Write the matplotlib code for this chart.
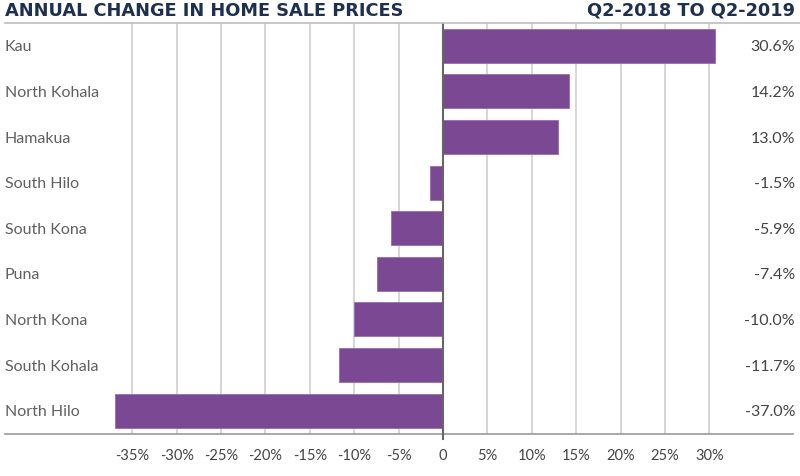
import matplotlib
matplotlib.use("Agg")
import matplotlib.pyplot as plt
from matplotlib.lines import Line2D

categories = ["Kau", "North Kohala", "Hamakua", "South Hilo", "South Kona",
              "Puna", "North Kona", "South Kohala", "North Hilo"]
values = [30.6, 14.2, 13.0, -1.5, -5.9, -7.4, -10.0, -11.7, -37.0]
value_labels = ["30.6%", "14.2%", "13.0%", "-1.5%", "-5.9%", "-7.4%",
                "-10.0%", "-11.7%", "-37.0%"]
tick_vals = [-35, -30, -25, -20, -15, -10, -5, 0, 5, 10, 15, 20, 25, 30]
tick_labels = ["-35%", "-30%", "-25%", "-20%", "-15%", "-10%", "-5%", "0",
               "5%", "10%", "15%", "20%", "25%", "30%"]
title_left = "ANNUAL CHANGE IN HOME SALE PRICES"
title_right = "Q2-2018 TO Q2-2019"

plt.rcParams['font.family'] = ['Lato', 'DejaVu Sans']

W, H = 800, 476
fig = plt.figure(figsize=(W / 100, H / 100), dpi=100)
ax_l, ax_r = 5, 795
ax_t, ax_b = 23, 433.5
ax = fig.add_axes([ax_l / W, 1 - ax_b / H, (ax_r - ax_l) / W, (ax_b - ax_t) / H])

px_per = (709.3 - 443) / 30.0
xmin = (ax_l - 443) / px_per
xmax = (ax_r - 443) / px_per
ax.set_xlim(xmin, xmax)
ax.set_ylim(len(categories) - 0.5, -0.5)

for t in tick_vals:
    if t != 0:
        ax.axvline(t, color="#cfcfcf", lw=1.2, zorder=0)

ypos = list(range(len(categories)))
ax.barh(ypos, values, height=0.745, color="#7b4894", edgecolor="#9a6ab0",
        linewidth=0.6, zorder=2)
ax.axvline(0, color="#666666", lw=1.5, zorder=3)

for y, c, lab in zip(ypos, categories, value_labels):
    ax.text(0.0, y, c, transform=ax.get_yaxis_transform(), ha="left",
            va="center_baseline", fontsize=11.5, color="#606060")
    ax.text(1.0, y, lab, transform=ax.get_yaxis_transform(), ha="right",
            va="center_baseline", fontsize=11.5, color="#444444")

for s in ax.spines.values():
    s.set_visible(False)
ax.set_yticks([])
ax.set_xticks(tick_vals)
ax.set_xticklabels(tick_labels, fontsize=10.5, color="#444444")
ax.tick_params(axis="x", length=0, pad=11)

# top and bottom rules
fig.add_artist(Line2D([5 / W, 1.0], [1 - 23 / H, 1 - 23 / H], color="#bdbdbd", lw=1.2))
fig.add_artist(Line2D([5 / W, 793 / W], [1 - 433.5 / H, 1 - 433.5 / H], color="#999999", lw=1.2))
fig.add_artist(Line2D([443 / W, 443 / W], [1 - 433.5 / H, 1 - 439 / H], color="#666666", lw=1.5))

fig.text(5 / W, 1 - 11 / H, title_left, ha="left", va="center", fontsize=12.8,
         fontweight="bold", color="#1e3050", family=["DejaVu Sans"])
fig.text(795 / W, 1 - 11 / H, title_right, ha="right", va="center", fontsize=12.8,
         fontweight="bold", color="#1e3050", family=["DejaVu Sans"])

fig.savefig("out.png", dpi=100)
